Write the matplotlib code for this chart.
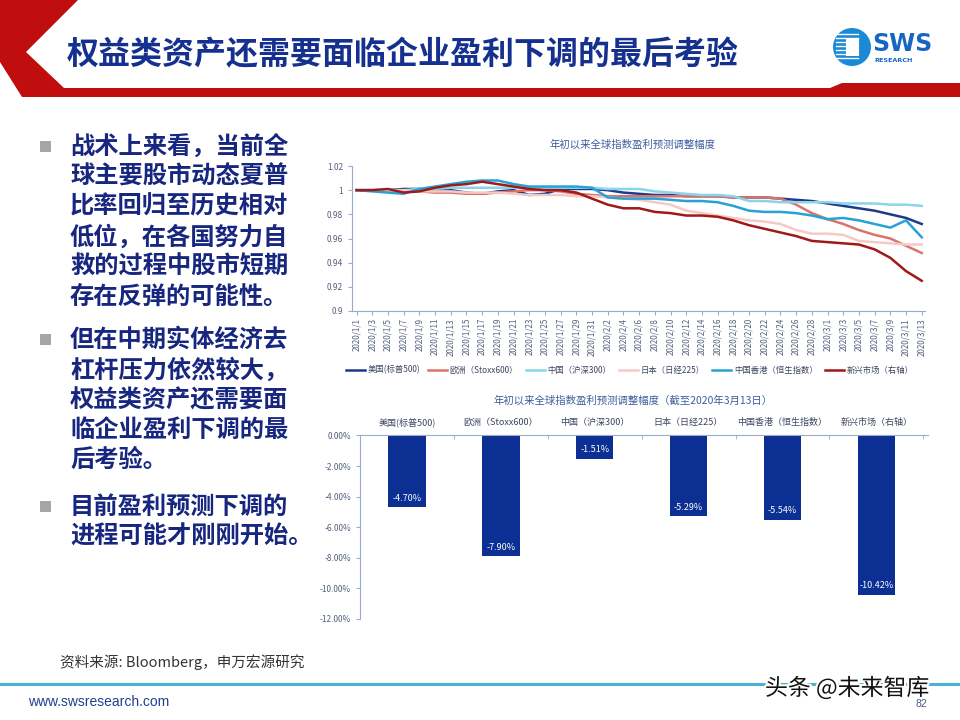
import numpy as np
import pandas as pd
import matplotlib
matplotlib.use('Agg')
import matplotlib.pyplot as plt
from matplotlib.patches import Polygon, Circle, Rectangle
from matplotlib.ticker import FuncFormatter
import matplotlib.patheffects as pe

plt.rcParams['font.family'] = ['Noto Sans CJK SC', 'DejaVu Sans']

# ---- data: top line chart (every second day) ----
dates = pd.date_range('2020-01-01', '2020-03-13', freq='2D')

us = [1.000, 1.000, 1.000, 1.001, 1.001, 1.000, 1.000, 0.998, 0.997, 0.999,
      1.000, 0.996, 0.997, 1.001, 1.001, 1.001, 1.000, 0.998, 0.997, 0.996,
      0.996, 0.995, 0.995, 0.995, 0.994, 0.994, 0.994, 0.993, 0.992, 0.991,
      0.989, 0.987, 0.985, 0.983, 0.980, 0.977, 0.972]
europe = [1.000, 1.000, 1.000, 0.999, 0.999, 0.998, 0.998, 0.997, 0.997, 0.998,
          0.999, 1.000, 1.000, 0.999, 0.997, 0.996, 0.995, 0.995, 0.995, 0.995,
          0.995, 0.995, 0.995, 0.995, 0.994, 0.994, 0.994, 0.993, 0.988, 0.981,
          0.976, 0.972, 0.967, 0.963, 0.960, 0.954, 0.948]
china = [1.000, 1.000, 1.000, 1.000, 1.001, 1.001, 1.002, 1.002, 1.002, 1.002,
         1.002, 1.002, 1.002, 1.002, 1.002, 1.002, 1.001, 1.001, 1.001, 0.999,
         0.998, 0.997, 0.996, 0.996, 0.995, 0.991, 0.991, 0.990, 0.990, 0.990,
         0.990, 0.989, 0.989, 0.989, 0.988, 0.988, 0.987]
japan = [1.000, 1.000, 1.000, 1.000, 0.999, 0.999, 0.999, 0.998, 0.998, 0.998,
         0.997, 0.996, 0.996, 0.996, 0.995, 0.995, 0.994, 0.993, 0.992, 0.990,
         0.988, 0.983, 0.981, 0.979, 0.977, 0.975, 0.974, 0.972, 0.967, 0.964,
         0.964, 0.963, 0.958, 0.957, 0.956, 0.955, 0.955]
hongkong = [1.000, 0.999, 0.998, 0.997, 1.001, 1.003, 1.005, 1.007, 1.008, 1.008,
            1.005, 1.003, 1.003, 1.003, 1.003, 1.002, 0.994, 0.993, 0.993, 0.993,
            0.992, 0.991, 0.991, 0.990, 0.987, 0.983, 0.982, 0.982, 0.981, 0.979,
            0.976, 0.977, 0.975, 0.972, 0.969, 0.975, 0.961]
emerging = [1.000, 1.000, 1.001, 0.998, 0.999, 1.002, 1.004, 1.005, 1.007, 1.005,
            1.003, 1.001, 1.000, 1.000, 0.998, 0.993, 0.988, 0.985, 0.985, 0.982,
            0.981, 0.979, 0.979, 0.978, 0.975, 0.971, 0.968, 0.965, 0.962, 0.958,
            0.957, 0.956, 0.955, 0.951, 0.944, 0.933, 0.925]

line_names = ['美国(标普500)', '欧洲（Stoxx600）', '中国（沪深300）',
              '日本（日经225）', '中国香港（恒生指数）', '新兴市场（右轴）']
line_colors = ['#1f3a88', '#d9746c', '#8ad4ec', '#f5c9c6', '#25a3d6', '#a01818']

# ---- data: bottom bar chart ----
bar_names = ['美国(标普500)', '欧洲（Stoxx600）', '中国（沪深300）',
             '日本（日经225）', '中国香港（恒生指数）', '新兴市场（右轴）']
bar_values = [-4.70, -7.90, -1.51, -5.29, -5.54, -10.42]

# ---- slide text ----
title = '权益类资产还需要面临企业盈利下调的最后考验'
bullets = [
    ['战术上来看，当前全', '球主要股市动态夏普', '比率回归至历史相对',
     '低位，在各国努力自', '救的过程中股市短期', '存在反弹的可能性。'],
    ['但在中期实体经济去', '杠杆压力依然较大，', '权益类资产还需要面',
     '临企业盈利下调的最', '后考验。'],
    ['目前盈利预测下调的', '进程可能才刚刚开始。'],
]
bullet_tops = [147, 340, 507]

W, H = 960, 720


def box(x0, y0, x1, y1):
    return [x0 / W, 1 - y1 / H, (x1 - x0) / W, (y1 - y0) / H]


fig = plt.figure(figsize=(9.6, 7.2), dpi=100)

# background layer in pixel coordinates
bg = fig.add_axes([0, 0, 1, 1], zorder=0)
bg.set_xlim(0, W)
bg.set_ylim(H, 0)
bg.axis('off')

red = '#c00d0d'
bg.add_patch(Polygon([(0, 0), (78, 0), (26, 52), (64, 88), (830, 88), (842, 83),
                      (960, 83), (960, 97), (22, 97), (0, 62)],
                     closed=True, color=red, lw=0))
bg.text(67, 55, title, fontsize=23, fontweight='bold', color='#15308f',
        ha='left', va='center')

# logo
bg.add_patch(Circle((852, 47), 19, color='#1b8ad6', lw=0))
for yy in range(34, 62, 4):
    bg.plot([836, 858], [yy, yy], color='white', lw=1.0)
bg.add_patch(Rectangle((846, 38), 13, 18, color='white', lw=0))
bg.text(872, 44, 'SWS', fontsize=17, fontweight='bold', color='#1666c2',
        family=['DejaVu Sans'], ha='left', va='center')
bg.text(874, 61, 'RESEARCH', fontsize=4.6, fontweight='bold', color='#1666c2',
        family=['DejaVu Sans'], ha='left', va='center')

# bullets
for lines, top in zip(bullets, bullet_tops):
    bg.add_patch(Rectangle((40, top - 6), 11, 11, color='#a6a6a6', lw=0))
    for k, s in enumerate(lines):
        bg.text(70, top + k * 30, s, fontsize=17.5, fontweight='bold',
                color='#172780', ha='left', va='center')

# footer
bg.text(60, 662, '资料来源: Bloomberg，申万宏源研究', fontsize=10.5,
        color='#333333', ha='left', va='center')
bg.plot([0, 960], [684, 684], color='#49b3d6', lw=2.2)
bg.text(28, 702, 'www.swsresearch.com', fontsize=10, color='#1f3f8f',
        family=['Liberation Sans', 'DejaVu Sans'], ha='left', va='center')
bg.text(916, 704, '82', fontsize=7.5, color='#4a5a8a',
        family=['Liberation Sans', 'DejaVu Sans'], ha='left', va='center')
bg.text(765, 688, '头条 @未来智库', fontsize=16.5, color='#111111',
        ha='left', va='center',
        path_effects=[pe.withStroke(linewidth=3, foreground='white')], zorder=5)

# chart titles
bg.text(633, 145, '年初以来全球指数盈利预测调整幅度', fontsize=7.5,
        color='#3f5d9f', ha='center', va='center')
bg.text(633, 401, '年初以来全球指数盈利预测调整幅度（截至2020年3月13日）',
        fontsize=7.5, color='#3f5d9f', ha='center', va='center')

axis_col = '#9aaacc'
label_col = '#54607c'

# ---- top line chart ----
ax1 = fig.add_axes(box(352, 166, 925, 311), zorder=2)
ax1.patch.set_alpha(0)
for vals, name, col in zip([us, europe, china, japan, hongkong, emerging],
                           line_names, line_colors):
    ax1.plot(dates, vals, color=col, lw=1.8, label=name)
ax1.set_ylim(0.9, 1.02)
ax1.set_yticks(np.arange(0.9, 1.021, 0.02))
ax1.yaxis.set_major_formatter(FuncFormatter(lambda v, p: f'{round(v, 2):g}'))
ax1.set_xlim(dates[0] - pd.Timedelta(hours=14), dates[-1] + pd.Timedelta(hours=10))
ax1.set_xticks(dates)
ax1.set_xticklabels([f'{d.year}/{d.month}/{d.day}' for d in dates],
                    rotation=90, fontsize=5.8, color=label_col)
ax1.tick_params(axis='y', labelsize=6, labelcolor=label_col, length=3,
                color=axis_col)
ax1.tick_params(axis='x', length=3, color=axis_col, pad=2)
for s in ['top', 'right']:
    ax1.spines[s].set_visible(False)
for s in ['left', 'bottom']:
    ax1.spines[s].set_color(axis_col)

fig.legend(loc='center', bbox_to_anchor=(630 / W, 1 - 370 / H), ncol=6,
           frameon=False, fontsize=6, handlelength=2.3, columnspacing=0.9,
           handletextpad=0.3, labelcolor='#3c4660')

# ---- bottom bar chart ----
ax2 = fig.add_axes(box(360, 435.4, 928, 619), zorder=2)
ax2.patch.set_alpha(0)
xs = np.arange(len(bar_values))
ax2.bar(xs, bar_values, width=0.4, color='#0b2f93')
for x, v in zip(xs, bar_values):
    ax2.text(x, v + 0.6, f'{v:.2f}%', ha='center', va='center',
             color='white', fontsize=6.5)
ax2.set_ylim(-12, 0)
ax2.set_xlim(-0.5, 5.55)
ax2.set_yticks(np.arange(-12, 0.1, 2))
ax2.yaxis.set_major_formatter(FuncFormatter(lambda v, p: f'{v + 0.0:.2f}%'))
ax2.xaxis.tick_top()
ax2.set_xticks(xs)
ax2.set_xticklabels(bar_names, fontsize=6.5, color='#3c4660')
ax2.set_xticks(np.arange(-0.5, 5.6, 1), minor=True)
ax2.tick_params(axis='x', which='major', length=0, pad=6)
ax2.tick_params(axis='x', which='minor', length=3, direction='in', color=axis_col)
ax2.tick_params(axis='y', labelsize=6, labelcolor=label_col, length=3,
                color=axis_col)
for s in ['bottom', 'right']:
    ax2.spines[s].set_visible(False)
for s in ['left', 'top']:
    ax2.spines[s].set_color(axis_col)

fig.savefig('out.png', dpi=100)
